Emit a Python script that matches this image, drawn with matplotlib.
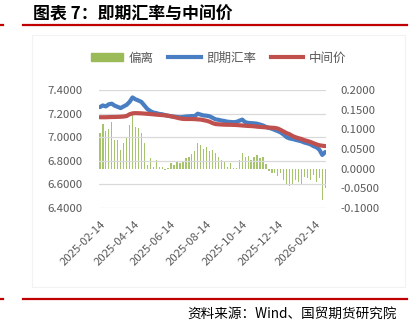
import numpy as np
import pandas as pd
import matplotlib
matplotlib.use("Agg")
import matplotlib.pyplot as plt
import matplotlib.dates as mdates
from matplotlib.lines import Line2D
from matplotlib.patches import Patch, Rectangle

plt.rcParams['font.family'] = ['Noto Sans CJK SC', 'DejaVu Sans']

# 即期汇率（USDCNY）
spot = [7.256, 7.270, 7.262, 7.280, 7.285, 7.268, 7.258, 7.248, 7.262, 7.275,
        7.300, 7.338, 7.322, 7.312, 7.300, 7.270, 7.240, 7.222, 7.210, 7.205,
        7.198, 7.195, 7.188, 7.182, 7.178, 7.175, 7.172, 7.170, 7.172, 7.176,
        7.178, 7.180, 7.180, 7.200, 7.192, 7.185, 7.183, 7.178, 7.165, 7.152,
        7.148, 7.142, 7.138, 7.132, 7.130, 7.128, 7.130, 7.140, 7.150, 7.128,
        7.122, 7.120, 7.118, 7.115, 7.108, 7.100, 7.088, 7.080, 7.072, 7.062,
        7.052, 7.040, 7.022, 7.000, 6.990, 6.985, 6.978, 6.972, 6.965, 6.955,
        6.948, 6.940, 6.925, 6.915, 6.895, 6.850, 6.875]

# 中间价
central = [7.170, 7.170, 7.170, 7.171, 7.172, 7.172, 7.173, 7.174, 7.176, 7.180,
           7.195, 7.203, 7.205, 7.204, 7.203, 7.201, 7.199, 7.197, 7.195, 7.192,
           7.190, 7.188, 7.186, 7.183, 7.178, 7.172, 7.166, 7.160, 7.156, 7.155,
           7.155, 7.155, 7.154, 7.152, 7.150, 7.145, 7.140, 7.132, 7.120, 7.112,
           7.110, 7.108, 7.107, 7.106, 7.106, 7.105, 7.104, 7.102, 7.100, 7.098,
           7.096, 7.095, 7.093, 7.090, 7.088, 7.086, 7.084, 7.082, 7.081, 7.079,
           7.074, 7.062, 7.048, 7.035, 7.025, 7.010, 7.000, 6.992, 6.985, 6.975,
           6.968, 6.960, 6.950, 6.940, 6.932, 6.928, 6.925]

# 偏离（即期 - 中间价）
deviation = [0.090, 0.115, 0.095, 0.100, 0.120, 0.074, 0.072, 0.048, 0.066, 0.080,
             0.112, 0.137, 0.107, 0.104, 0.090, 0.066, 0.010, 0.028, 0.004, 0.023,
             0.005, 0.003, -0.003, 0.002, 0.015, 0.010, 0.018, 0.015, 0.020, 0.026,
             0.030, 0.038, 0.045, 0.066, 0.060, 0.050, 0.056, 0.045, 0.048, 0.040,
             0.030, 0.023, 0.020, 0.003, 0.015, 0.001, 0.002, 0.023, 0.040, 0.030,
             0.033, 0.023, 0.030, 0.036, 0.028, 0.030, 0.012, -0.005, -0.010, -0.012,
             -0.018, -0.012, -0.028, -0.040, -0.045, -0.040, -0.028, -0.035, -0.040, -0.020,
             -0.023, -0.028, -0.015, -0.033, -0.023, -0.079, -0.050]

dates = pd.date_range("2025-02-14", "2026-03-03", periods=len(spot))
tick_dates = pd.date_range("2025-02-14", periods=7, freq=pd.DateOffset(months=2))

left_ticks = [6.4, 6.6, 6.8, 7.0, 7.2, 7.4]
right_ticks = [-0.1, -0.05, 0.0, 0.05, 0.1, 0.15, 0.2]

GREY = '#595959'
fig = plt.figure(figsize=(4.16, 3.29), dpi=100)

ax_bar = fig.add_axes([0.238, 0.368, 0.546, 0.358])
ax = ax_bar.twinx()

# 偏离柱状图（右轴）
ax_bar.bar(dates, deviation, width=2.2, color='#A6C36E', linewidth=0)
ax_bar.set_ylim(-0.1, 0.2)
ax_bar.set_yticks(right_ticks)
ax_bar.set_yticklabels([f"{v:.4f}" for v in right_ticks])
ax_bar.yaxis.tick_right()

# 即期汇率与中间价折线（左轴）
ax.plot(dates, spot, color='#4A7EC2', lw=3.0, solid_capstyle='round')
ax.plot(dates, central, color='#C0504D', lw=3.0, solid_capstyle='round')
ax.set_ylim(6.4, 7.4)
ax.set_yticks(left_ticks)
ax.set_yticklabels([f"{v:.4f}" for v in left_ticks])
ax.yaxis.tick_left()
ax.grid(axis='y', color='#D9D9D9', lw=0.9)
ax.set_axisbelow(True)

for a in (ax, ax_bar):
    for s in a.spines.values():
        s.set_visible(False)
    a.tick_params(length=0, colors=GREY, labelsize=8.2)

ax.tick_params(axis='y', pad=12)
ax_bar.tick_params(axis='y', pad=10)

ax_bar.set_xlim(dates[0] - pd.Timedelta(days=1.5), dates[-1] + pd.Timedelta(days=1.5))
ax_bar.set_xticks(tick_dates)
ax_bar.xaxis.set_major_formatter(mdates.DateFormatter('%Y-%m-%d'))
plt.setp(ax_bar.get_xticklabels(), rotation=45, ha='right', rotation_mode='anchor')
ax_bar.tick_params(axis='x', pad=8)
ax.tick_params(axis='x', which='both', labelbottom=False)

# 图例
handles = [Patch(color='#9BBB59'),
           Line2D([0], [0], color='#4A7EC2', lw=3),
           Line2D([0], [0], color='#C0504D', lw=3)]
fig.legend(handles, ['偏离', '即期汇率', '中间价'], loc='center', ncol=3,
           bbox_to_anchor=(0.525, 1 - 58 / 329), frameon=False, fontsize=9,
           labelcolor=GREY, handlelength=2.6, handleheight=0.6,
           columnspacing=1.2, handletextpad=0.4)

# 图表区边框
fig.patches.append(Rectangle((32 / 416, 1 - 287 / 329), 373 / 416, 252 / 329,
                             transform=fig.transFigure, fill=False,
                             edgecolor='#F2F2F2', lw=0.8))

# 标题与分隔线
fig.text(33 / 416, 1 - 14 / 329, '图表 7：即期汇率与中间价', fontsize=12.2,
         fontweight='bold', va='center', ha='left', color='black')
for y in (1 - 25 / 329, 1 - 299 / 329):
    fig.add_artist(Line2D([23 / 416, 407 / 416], [y, y], color='#C00000', lw=1.6,
                          transform=fig.transFigure))
    fig.add_artist(Line2D([0, 3 / 416], [y, y], color='#C00000', lw=1.6,
                          transform=fig.transFigure))

fig.text(397 / 416, 1 - 314 / 329, '资料来源：Wind、国贸期货研究院', fontsize=9.8,
         va='center', ha='right', color='black')

fig.savefig('out.png', dpi=100)
